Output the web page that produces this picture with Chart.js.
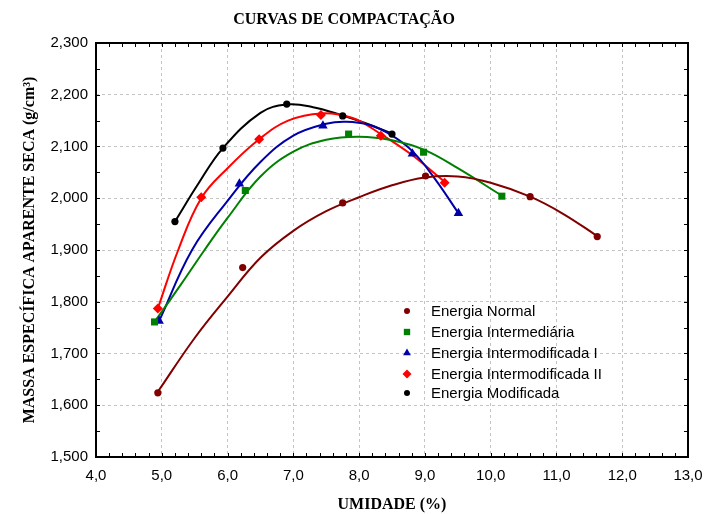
<!DOCTYPE html>
<html lang="pt">
<head>
  <meta charset="UTF-8" />
  <title>Curvas de Compactação</title>
  <script src="https://cdn.jsdelivr.net/npm/chart.js"></script>
  <style>
    * { margin: 0; padding: 0; box-sizing: border-box; }
    body { background: #fff; width: 705px; height: 514px; overflow: hidden; }
    #wrap { width: 705px; height: 514px; }
  </style>
</head>
<body>
  <div id="wrap"><canvas id="chart" width="705" height="514"></canvas></div>
  <script>
    // axis ranges / ticks
    const xTicks = [4, 5, 6, 7, 8, 9, 10, 11, 12, 13];
    const yTicks = [1.5, 1.6, 1.7, 1.8, 1.9, 2.0, 2.1, 2.2, 2.3];

    const seriesNames = [
      "Energia Normal",
      "Energia Intermediária",
      "Energia Intermodificada I",
      "Energia Intermodificada II",
      "Energia Modificada"
    ];
    const seriesColors = ["#800000", "#008000", "#0000a8", "#ff0000", "#000000"];
    const seriesStyles = ["circle", "rect", "triangle", "rectRot", "circle"];

    // measured points (umidade %, massa especifica g/cm3)
    const normalX = [4.94, 6.23, 7.75, 9.01, 10.60, 11.62];
    const normalY = [1.624, 1.866, 1.991, 2.043, 2.003, 1.926];
    const intermX = [4.89, 6.27, 7.84, 8.98, 10.17];
    const intermY = [1.761, 2.015, 2.124, 2.089, 2.004];
    const intermod1X = [4.96, 6.18, 7.45, 8.81, 9.51];
    const intermod1Y = [1.763, 2.028, 2.140, 2.086, 1.971];
    const intermod2X = [4.94, 5.60, 6.48, 7.42, 8.33, 9.30];
    const intermod2Y = [1.787, 2.002, 2.114, 2.161, 2.121, 2.030];
    const modifX = [5.20, 5.93, 6.90, 7.75, 8.50];
    const modifY = [1.955, 2.097, 2.182, 2.159, 2.124];

    // fitted curves
    const normalCurveX = [4.94, 5.5, 6.0, 6.5, 7.0, 7.5, 8.0, 8.5, 9.0, 9.5, 10.0, 10.6, 11.1, 11.62];
    const normalCurveY = [1.626, 1.730, 1.810, 1.885, 1.937, 1.975, 2.002, 2.025, 2.040, 2.042, 2.030, 2.003, 1.970, 1.927];
    const intermCurveX = [4.89, 5.3, 5.65, 6.0, 6.5, 7.0, 7.5, 8.0, 8.5, 9.0, 9.5, 10.17];
    const intermCurveY = [1.761, 1.835, 1.900, 1.962, 2.042, 2.090, 2.113, 2.119, 2.112, 2.093, 2.058, 2.005];
    const intermod1CurveX = [4.96, 5.46, 6.0, 6.5, 7.0, 7.5, 7.8, 8.15, 8.49, 8.81, 9.15, 9.51];
    const intermod1CurveY = [1.763, 1.900, 1.995, 2.070, 2.121, 2.144, 2.148, 2.142, 2.122, 2.091, 2.038, 1.971];
    const intermod2CurveX = [4.94, 5.25, 5.6, 6.0, 6.48, 6.92, 7.42, 7.9, 8.33, 8.8, 9.30];
    const intermod2CurveY = [1.787, 1.900, 2.000, 2.058, 2.114, 2.150, 2.164, 2.155, 2.124, 2.084, 2.032];
    const modifCurveX = [5.20, 5.56, 5.93, 6.50, 6.90, 7.30, 7.75, 8.10, 8.50];
    const modifCurveY = [1.955, 2.029, 2.097, 2.165, 2.181, 2.176, 2.160, 2.145, 2.125];

    const pointsX = [normalX, intermX, intermod1X, intermod2X, modifX];
    const pointsY = [normalY, intermY, intermod1Y, intermod2Y, modifY];
    const curvesX = [normalCurveX, intermCurveX, intermod1CurveX, intermod2CurveX, modifCurveX];
    const curvesY = [normalCurveY, intermCurveY, intermod1CurveY, intermod2CurveY, modifCurveY];
    const markerSizes = [3.6, 5, 5.5, 5, 3.6];

    const zip = (xs, ys) => xs.map((x, i) => ({ x: x, y: ys[i] }));

    const datasets = [];
    seriesNames.forEach((name, i) => {
      datasets.push({
        label: name,
        data: zip(pointsX[i], pointsY[i]),
        showLine: false,
        pointStyle: seriesStyles[i],
        pointRadius: markerSizes[i],
        pointBackgroundColor: seriesColors[i],
        pointBorderColor: seriesColors[i],
        pointBorderWidth: 0,
        order: 0
      });
    });
    seriesNames.forEach((name, i) => {
      datasets.push({
        label: name + " (curva)",
        data: zip(curvesX[i], curvesY[i]),
        showLine: true,
        borderColor: seriesColors[i],
        borderWidth: 2,
        pointRadius: 0,
        tension: 0.4,
        order: 1
      });
    });

    // frame box with inward minor ticks + legend inside the plot
    const frame = {
      id: "frame",
      afterDatasetsDraw(chart) {
        const ctx = chart.ctx;
        const a = chart.chartArea;
        const xs = chart.scales.x, ys = chart.scales.y;
        ctx.save();
        ctx.strokeStyle = "#000";
        ctx.lineWidth = 1;
        ctx.beginPath();
        for (let v = 4; v <= 13.0001; v += 0.2) {
          const px = Math.round(xs.getPixelForValue(v)) + 0.5;
          ctx.moveTo(px, a.bottom); ctx.lineTo(px, a.bottom - 4);
          ctx.moveTo(px, a.top); ctx.lineTo(px, a.top + 4);
        }
        for (let v = 1.5; v <= 2.3001; v += 0.05) {
          const py = Math.round(ys.getPixelForValue(v)) + 0.5;
          ctx.moveTo(a.left, py); ctx.lineTo(a.left + 4, py);
          ctx.moveTo(a.right, py); ctx.lineTo(a.right - 4, py);
        }
        ctx.stroke();
        ctx.lineWidth = 2;
        ctx.strokeRect(a.left, a.top, a.right - a.left, a.bottom - a.top);

        // legend
        const lx = 407, tx = 431;
        const rowsY = [311, 332, 353, 374, 393];
        ctx.font = "15px 'Liberation Sans', Arial, sans-serif";
        ctx.textBaseline = "middle";
        ctx.textAlign = "left";
        seriesNames.forEach((name, i) => {
          ctx.fillStyle = seriesColors[i];
          ctx.strokeStyle = seriesColors[i];
          Chart.helpers.drawPoint(ctx, {
            pointStyle: seriesStyles[i],
            radius: seriesStyles[i] === "circle" ? 3 : 4.5,
            rotation: 0,
            borderWidth: 0
          }, lx, rowsY[i]);
          ctx.fillStyle = "#000";
          ctx.fillText(name, tx, rowsY[i] + 1);
        });
        ctx.restore();
      }
    };

    const fmt = (v, d) => Number(v).toFixed(d).replace(".", ",");
    const serif = "'Liberation Serif', 'Times New Roman', serif";
    const sans = "'Liberation Sans', Arial, sans-serif";

    new Chart(document.getElementById("chart"), {
      type: "scatter",
      data: { datasets: datasets },
      options: {
        responsive: false,
        animation: false,
        layout: { padding: { top: 0, right: 17, bottom: 0, left: 0 } },
        plugins: {
          legend: { display: false },
          tooltip: { enabled: false },
          title: {
            display: true,
            text: "CURVAS DE COMPACTAÇÃO",
            color: "#000",
            font: { family: serif, size: 16, weight: "bold" },
            padding: { top: 10.4, bottom: 13.4 }
          }
        },
        scales: {
          x: {
            type: "linear",
            min: xTicks[0],
            max: xTicks[xTicks.length - 1],
            afterBuildTicks: s => { s.ticks = xTicks.map(v => ({ value: v })); },
            afterFit: s => { s.height = 57; s.paddingLeft = 0; s.paddingRight = 0; },
            ticks: {
              color: "#000",
              padding: 10,
              font: { family: sans, size: 15 },
              callback: v => fmt(v, 1)
            },
            grid: { color: "#c4c4c4", drawTicks: false },
            border: { display: false, dash: [3, 3] },
            title: {
              display: true,
              text: "UMIDADE (%)",
              color: "#000",
              font: { family: serif, size: 16, weight: "bold" },
              padding: { top: 0, bottom: 0 }
            }
          },
          y: {
            type: "linear",
            min: yTicks[0],
            max: yTicks[yTicks.length - 1],
            afterBuildTicks: s => { s.ticks = yTicks.map(v => ({ value: v })); },
            afterFit: s => { s.width = 96; },
            ticks: {
              color: "#000",
              padding: 8,
              font: { family: sans, size: 15 },
              callback: v => fmt(v, 3)
            },
            grid: { color: "#c4c4c4", drawTicks: false },
            border: { display: false, dash: [3, 3] },
            title: {
              display: true,
              text: "MASSA ESPECÍFICA APARENTE SECA (g/cm³)",
              color: "#000",
              font: { family: serif, size: 16, weight: "bold" },
              padding: { top: 20, bottom: 0 }
            }
          }
        }
      },
      plugins: [frame]
    });
  </script>
</body>
</html>
